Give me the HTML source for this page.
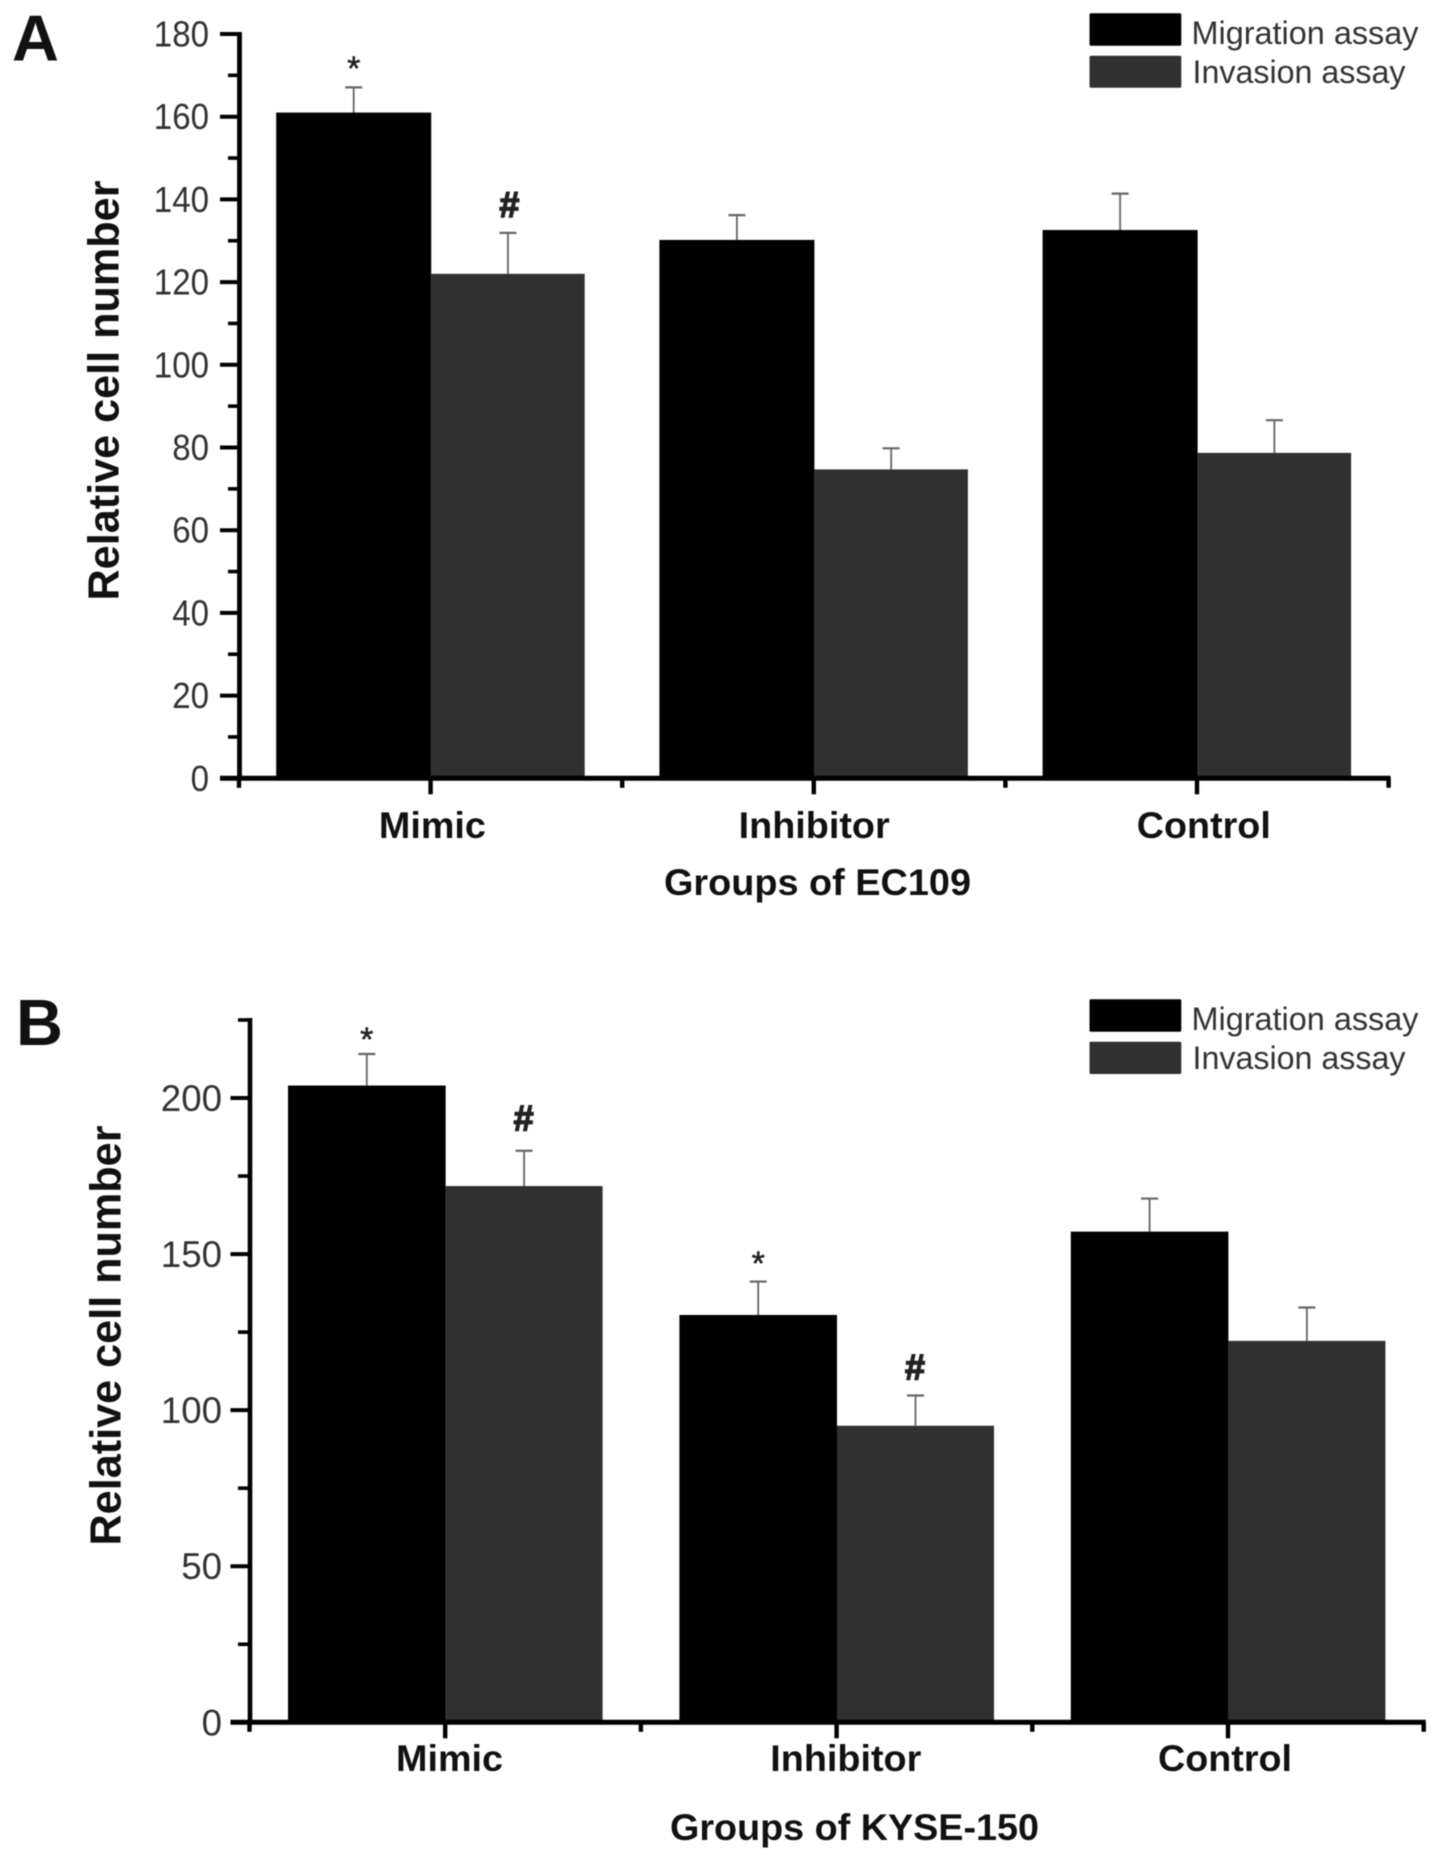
<!DOCTYPE html>
<html lang="en">
<head>
<meta charset="utf-8">
<title>Relative cell number in migration and invasion assays</title>
<style>
  html, body { margin: 0; padding: 0; background: #fff; }
  svg { display: block; filter: blur(0.5px); }
  text { font-family: "Liberation Sans", Arial, sans-serif; }
  .bold { font-weight: 700; fill: #111; }
  .tick { fill: #333; }
  .legend { fill: #333; font-size: 32px; }
  .letter { font-weight: 700; font-size: 65px; fill: #111; }
</style>
</head>
<body>
<svg id="figure" xmlns="http://www.w3.org/2000/svg" width="1441" height="1860" viewBox="0 0 1441 1860">
  <rect width="1441" height="1860" fill="#fff"/>

  <g id="panel-a">
    <text class="letter" x="12" y="60.5">A</text>
    <text class="bold" font-size="44" text-anchor="middle" textLength="420" lengthAdjust="spacingAndGlyphs" transform="translate(118.5 390.5) rotate(-90)">Relative cell number</text>
    <text class="bold" font-size="37" x="664" y="895" textLength="307" lengthAdjust="spacingAndGlyphs">Groups of EC109</text>
    <rect x="1089.5" y="13.3" width="91.8" height="32.4" rx="1.5" fill="#000"/>
    <rect x="1089.5" y="55.7" width="91.8" height="32" rx="1.5" fill="#303030"/>
    <text class="legend" x="1191.5" y="44" textLength="227" lengthAdjust="spacingAndGlyphs">Migration assay</text>
    <text class="legend" x="1192.5" y="83" textLength="213" lengthAdjust="spacingAndGlyphs">Invasion assay</text>
  </g>

  <g id="panel-b">
    <text class="letter" x="16" y="1045">B</text>
    <text class="bold" font-size="44" text-anchor="middle" textLength="420" lengthAdjust="spacingAndGlyphs" transform="translate(120.5 1335.5) rotate(-90)">Relative cell number</text>
    <text class="bold" font-size="37" x="670" y="1840" textLength="369" lengthAdjust="spacingAndGlyphs">Groups of KYSE-150</text>
    <rect x="1089.5" y="999.3" width="91.8" height="32.4" rx="1.5" fill="#000"/>
    <rect x="1089.5" y="1041.7" width="91.8" height="32.3" rx="1.5" fill="#303030"/>
    <text class="legend" x="1191.5" y="1030" textLength="227" lengthAdjust="spacingAndGlyphs">Migration assay</text>
    <text class="legend" x="1192.5" y="1069" textLength="213" lengthAdjust="spacingAndGlyphs">Invasion assay</text>
  </g>
</svg>

<script>
// Shared categories
const categories = ['Mimic', 'Inhibitor', 'Control'];

// Panel A data (EC109)
const yTickLabelsA = ['0', '20', '40', '60', '80', '100', '120', '140', '160', '180'];
const migrationA = [161, 130.2, 132.6];
const migrationErrorA = [6.1, 6, 8.8];
const invasionA = [122, 74.7, 78.7];
const invasionErrorA = [9.9, 5.1, 7.9];
const migrationMarksA = ['*', '', ''];
const invasionMarksA = ['#', '', ''];

// Panel B data (KYSE-150)
const yTickLabelsB = ['0', '50', '100', '150', '200'];
const migrationB = [204, 130.5, 157.2];
const migrationErrorB = [10.1, 10.7, 10.6];
const invasionB = [171.8, 95, 122.2];
const invasionErrorB = [11.3, 9.7, 10.7];
const migrationMarksB = ['*', '*', ''];
const invasionMarksB = ['#', '#', ''];

const SVG_NS = 'http://www.w3.org/2000/svg';

function make(parent, tag, attrs, content) {
  const el = document.createElementNS(SVG_NS, tag);
  for (const key in attrs) el.setAttribute(key, attrs[key]);
  if (content !== undefined) el.textContent = content;
  parent.appendChild(el);
  return el;
}

// Fitted rendered widths of the bold category labels
const categoryWidth = { Mimic: 107, Inhibitor: 151, Control: 134 };

function drawPanel(prefix, parent, layout, data) {
  const yOf = v => layout.y0 - (v / layout.yMax) * (layout.y0 - layout.yTop);
  const tickX = halfIndex => layout.xStart + halfIndex * layout.halfStep;
  const groupCentre = i => tickX(2 * i + 1) + layout.barShift;

  const yStep = Number(data.yTicks[1]) - Number(data.yTicks[0]);

  // Bars and error bars
  const series = [
    { key: 'migration', values: data.migration, errors: data.migrationError, marks: data.migrationMarks, fill: '#000', width: layout.barL, dir: -1 },
    { key: 'invasion', values: data.invasion, errors: data.invasionError, marks: data.invasionMarks, fill: '#303030', width: layout.barR, dir: 1 }
  ];
  series.forEach(s => {
    s.values.forEach((value, i) => {
      const centre = groupCentre(i);
      const left = s.dir < 0 ? centre - s.width : centre;
      const midX = left + s.width / 2 + layout.errShift;
      const top = yOf(value);
      const errTop = yOf(value + s.errors[i]);

      const stem = make(parent, 'line', { x1: midX, x2: midX, y1: top, y2: errTop, stroke: '#666', 'stroke-width': 1.8 });
      
      

      const cap = make(parent, 'line', { x1: midX - 8.5, x2: midX + 8.5, y1: errTop, y2: errTop, stroke: '#666', 'stroke-width': 2.2 });
      
      

      const bar = make(parent, 'rect', { x: left, y: top, width: s.width, height: layout.y0 - top, fill: s.fill });
      
      

      const mark = s.marks[i];
      if (mark) {
        const isHash = mark === '#';
        const markText = make(parent, 'text', {
          x: midX + (isHash ? layout.hashDx : 0),
          y: errTop - layout.markLift[s.key][i],
          'text-anchor': 'middle',
          'font-size': isHash ? 36 : 34,
          'font-weight': isHash ? 700 : 400,
          fill: '#222',
          stroke: '#222',
          'stroke-width': isHash ? 1.4 : 0.5
        }, mark);
        
        
      }
    });
  });

  // Y axis line
  const yAxis = make(parent, 'line', { x1: layout.yAxisX, x2: layout.yAxisX, y1: layout.yTop - 2, y2: layout.y0 + 2, stroke: '#000', 'stroke-width': layout.yAxisW });
  
  

  // Y ticks and labels
  data.yTicks.forEach(label => {
    const v = Number(label);
    const y = yOf(v);
    const tick = make(parent, 'line', { x1: layout.yMajorX, x2: layout.yAxisX, y1: y, y2: y, stroke: '#000', 'stroke-width': 4 });
    
    

    const t = make(parent, 'text', {
      class: 'tick',
      x: layout.yLabelX,
      y: y + layout.yLabelDy,
      'text-anchor': 'end',
      'font-size': layout.yLabelSize,
      textLength: label.length * layout.yDigitW,
      lengthAdjust: 'spacingAndGlyphs'
    }, label);
    
    
  });

  // Y minor ticks: halfway between major ticks, plus any above the last major tick
  for (let v = yStep / 2; v <= layout.yMax; v += yStep) {
    const y = yOf(v);
    const minor = make(parent, 'line', { x1: layout.yMinorX, x2: layout.yAxisX, y1: y, y2: y, stroke: '#000', 'stroke-width': 3.6 });
    
    
  }

  // X axis line
  const xAxis = make(parent, 'line', { x1: layout.yMajorX, x2: tickX(6) + 2, y1: layout.y0, y2: layout.y0, stroke: '#000', 'stroke-width': 5 });
  
  

  // X ticks (minor at group edges, major at group centres)
  for (let h = 0; h <= 6; h++) {
    const major = h % 2 === 1;
    const x = tickX(h);
    const xt = make(parent, 'line', { x1: x, x2: x, y1: layout.y0, y2: layout.y0 + (major ? 16 : 9.5), stroke: '#000', 'stroke-width': 4.4 });
    
    
  }

  // Category labels
  categories.forEach((name, i) => {
    const label = make(parent, 'text', {
      class: 'bold',
      x: tickX(2 * i + 1) + layout.labelNudge[i],
      y: layout.categoryBaseline,
      'text-anchor': 'middle',
      'font-size': 37,
      textLength: categoryWidth[name],
      lengthAdjust: 'spacingAndGlyphs'
    }, name);
    
    
  });
}

drawPanel('panel-a', document.getElementById('panel-a'), {
  y0: 778.3, yTop: 34, yMax: 180,
  xStart: 239, halfStep: 191.6, barShift: 0.6, errShift: 0,
  barL: 155, barR: 153.5,
  yAxisX: 239.5, yAxisW: 4.8, yMajorX: 220, yMinorX: 228,
  yLabelX: 209, yLabelDy: 12.5, yLabelSize: 36, yDigitW: 18.4,
  labelNudge: [1.8, 0.4, 6.8], categoryBaseline: 838,
  hashDx: 1.5,
  markLift: { migration: [7.5, 0, 0], invasion: [16, 0, 0] }
}, {
  yTicks: yTickLabelsA,
  migration: migrationA, migrationError: migrationErrorA, migrationMarks: migrationMarksA,
  invasion: invasionA, invasionError: invasionErrorA, invasionMarks: invasionMarksA
});

drawPanel('panel-b', document.getElementById('panel-b'), {
  y0: 1722.3, yTop: 1020, yMax: 225,
  xStart: 249.5, halfStep: 195.7, barShift: 0.4, errShift: 0,
  barL: 157.6, barR: 157,
  yAxisX: 250, yAxisW: 4.6, yMajorX: 230.5, yMinorX: 238,
  yLabelX: 222, yLabelDy: 13, yLabelSize: 37, yDigitW: 20.4,
  labelNudge: [4.3, 9.2, -3], categoryBaseline: 1771,
  hashDx: -0.5,
  markLift: { migration: [3, 6.5, 0], invasion: [20.5, 16, 0] }
}, {
  yTicks: yTickLabelsB,
  migration: migrationB, migrationError: migrationErrorB, migrationMarks: migrationMarksB,
  invasion: invasionB, invasionError: invasionErrorB, invasionMarks: invasionMarksB
});
</script>
</body>
</html>
